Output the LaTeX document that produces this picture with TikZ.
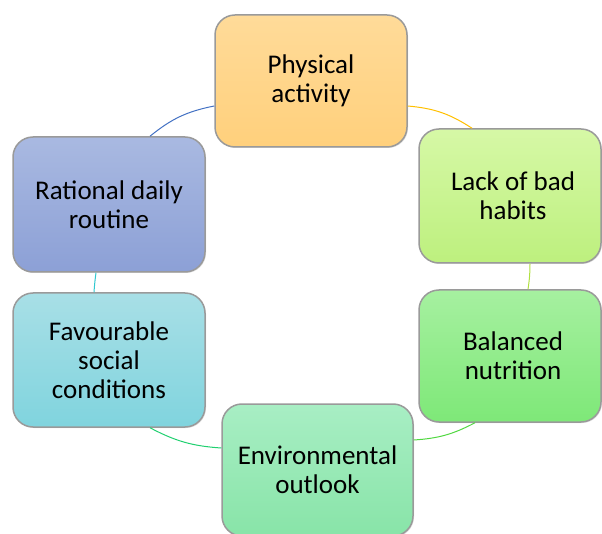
\documentclass[tikz,border=0pt]{standalone}
\usepackage{fontspec}
\setmainfont{Carlito}
\usetikzlibrary{calc,shadows}
\definecolor{physT}{HTML}{FFDB99}\definecolor{physB}{HTML}{FFD07C}
\definecolor{lackT}{HTML}{D6F8A6}\definecolor{lackB}{HTML}{BDF07E}
\definecolor{balT}{HTML}{A6F0A0}\definecolor{balB}{HTML}{7EE878}
\definecolor{envT}{HTML}{A8EEC4}\definecolor{envB}{HTML}{88E4A8}
\definecolor{favT}{HTML}{A8DFE6}\definecolor{favB}{HTML}{80D4DE}
\definecolor{ratT}{HTML}{A9B9E1}\definecolor{ratB}{HTML}{8CA0D6}
\definecolor{cA}{HTML}{4472C4}\definecolor{cB}{HTML}{FFC000}
\definecolor{cC}{HTML}{B0E040}\definecolor{cD}{HTML}{50D840}
\definecolor{cE}{HTML}{20D070}\definecolor{cF}{HTML}{30C8D0}
\definecolor{edge}{HTML}{9A9A9A}
\tikzset{
  cyclebox/.style={draw=edge, line width=1.5pt, rounded corners=20pt,
    align=center, inner sep=0pt, font=\fontsize{27}{29}\selectfont,
    drop shadow={opacity=0.25, shadow xshift=1pt, shadow yshift=-1pt}},
  conn/.style={line width=1pt}
}
\begin{document}
\begin{tikzpicture}[x=1pt,y=-1pt]
\path[use as bounding box, clip] (0,0) rectangle (602,534);
\fill[white] (0,0) rectangle (602,534);
% boxes
\node[cyclebox, top color=physT, bottom color=physB, minimum width=192pt, minimum height=132pt] (phys) at (311,81) {Physical\\activity};
\node[cyclebox, top color=lackT, bottom color=lackB, minimum width=182pt, minimum height=134pt] (lack) at (510,196) {\hspace*{6pt}Lack of bad\\\hspace*{6pt}habits};
\node[cyclebox, top color=balT, bottom color=balB, minimum width=182pt, minimum height=132pt] (bal) at (510,356) {\hspace*{6pt}Balanced\\\hspace*{6pt}nutrition};
\node[cyclebox, top color=envT, bottom color=envB, minimum width=191pt, minimum height=132pt] (env) at (317.5,470) {Environmental\\outlook};
\node[cyclebox, top color=favT, bottom color=favB, minimum width=192pt, minimum height=134pt] (fav) at (109,360) {Favourable\\social\\conditions};
\node[cyclebox, top color=ratT, bottom color=ratB, minimum width=192pt, minimum height=135pt] (rat) at (109,204.5) {Rational daily\\routine};
% connectors
\draw[conn, cA] ($(rat.north)+(41,0)$) to[bend left=14] ($(phys.west)+(0,25)$);
\draw[conn, cB] ($(phys.east)+(0,25)$) to[bend left=14] ($(lack.north)+(-38,0)$);
\draw[conn, cC] ($(lack.south)+(20,0)$) to[bend left=4] ($(bal.north)+(18,0)$);
\draw[conn, cD] ($(bal.south)+(-35,0)$) to[bend left=12] ($(env.east)+(0,-30)$);
\draw[conn, cE] ($(env.west)+(0,-22)$) to[bend left=12] ($(fav.south)+(41,0)$);
\draw[conn, cF] ($(fav.north)+(-15,0)$) to[bend left=2] ($(rat.south)+(-13,0)$);
\end{tikzpicture}
\end{document}
